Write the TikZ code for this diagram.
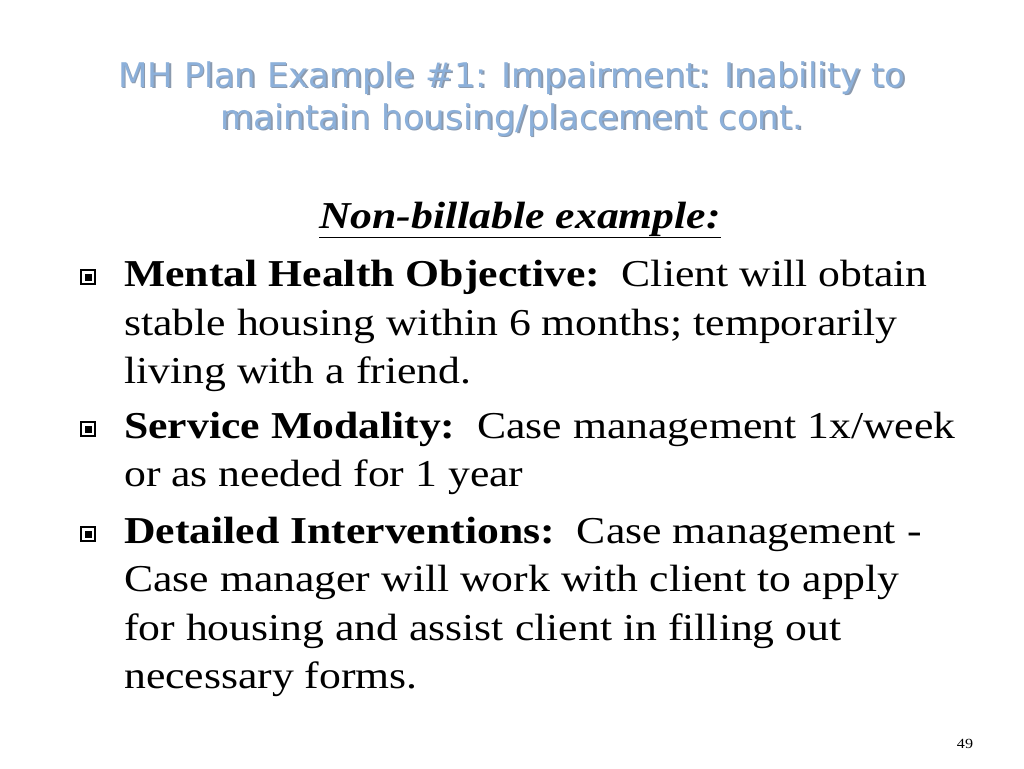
\documentclass[tikz,border=0pt]{standalone}
\usepackage{fontspec}
\setmainfont{Liberation Serif}[FakeStretch=1.15]
\newfontfamily\titlefont{DejaVu Sans}
\definecolor{tblue}{RGB}{140,176,218}
\definecolor{tshadow}{RGB}{90,110,140}
\begin{document}
\begin{tikzpicture}[x=1pt,y=-1pt,
  ttl/.style={font=\titlefont\fontsize{34}{34}\selectfont, anchor=base, inner sep=0pt},
  body/.style={font=\fontsize{38}{38}\selectfont, anchor=base west, inner sep=0pt},
  bul/.style={draw, line width=1.4pt, minimum size=14pt, inner sep=0pt}]
\useasboundingbox (0,0) rectangle (1024,768);
\fill[white] (0,0) rectangle (1024,768);
\foreach \t/\y [count=\i] in {{MH Plan Example \#1: Impairment: Inability to}/87,{maintain housing/placement cont.}/129}{
  \node[ttl, text=tshadow!70] at (513.5,\y+1.5) {\t};
  \node[ttl, text=tblue] (t\i) at (512,\y) {\t};
}
\node[font=\fontsize{38}{38}\selectfont\itshape\bfseries, anchor=base, inner sep=0pt] (h) at (520,228) {\underline{Non-billable example:}};
\node[body] (l1) at (124,286) {\textbf{Mental Health Objective:}\ \ Client will obtain};
\node[body] (l2) at (124,335) {stable housing within 6 months; temporarily};
\node[body] (l3) at (124,383) {living with a friend.};
\node[body] (l4) at (124,438) {\textbf{Service Modality:}\ \ Case management 1x/week};
\node[body] (l5) at (124,486) {or as needed for 1 year};
\node[body] (l6) at (124,543) {\textbf{Detailed Interventions:}\ \ Case management -};
\node[body] (l7) at (124,591) {Case manager will work with client to apply};
\node[body] (l8) at (124,640) {for housing and assist client in filling out};
\node[body] (l9) at (124,688) {necessary forms.};
\foreach \y [count=\i] in {277,429,534}{
  \node[bul] (b\i) at (88,\y) {};
  \fill (b\i.center) ++(-3.5,-3.5) rectangle +(7,7);
}
\node[font=\fontsize{14}{14}\selectfont, anchor=base, inner sep=0pt] (pg) at (965,748) {49};
\end{tikzpicture}
\end{document}
